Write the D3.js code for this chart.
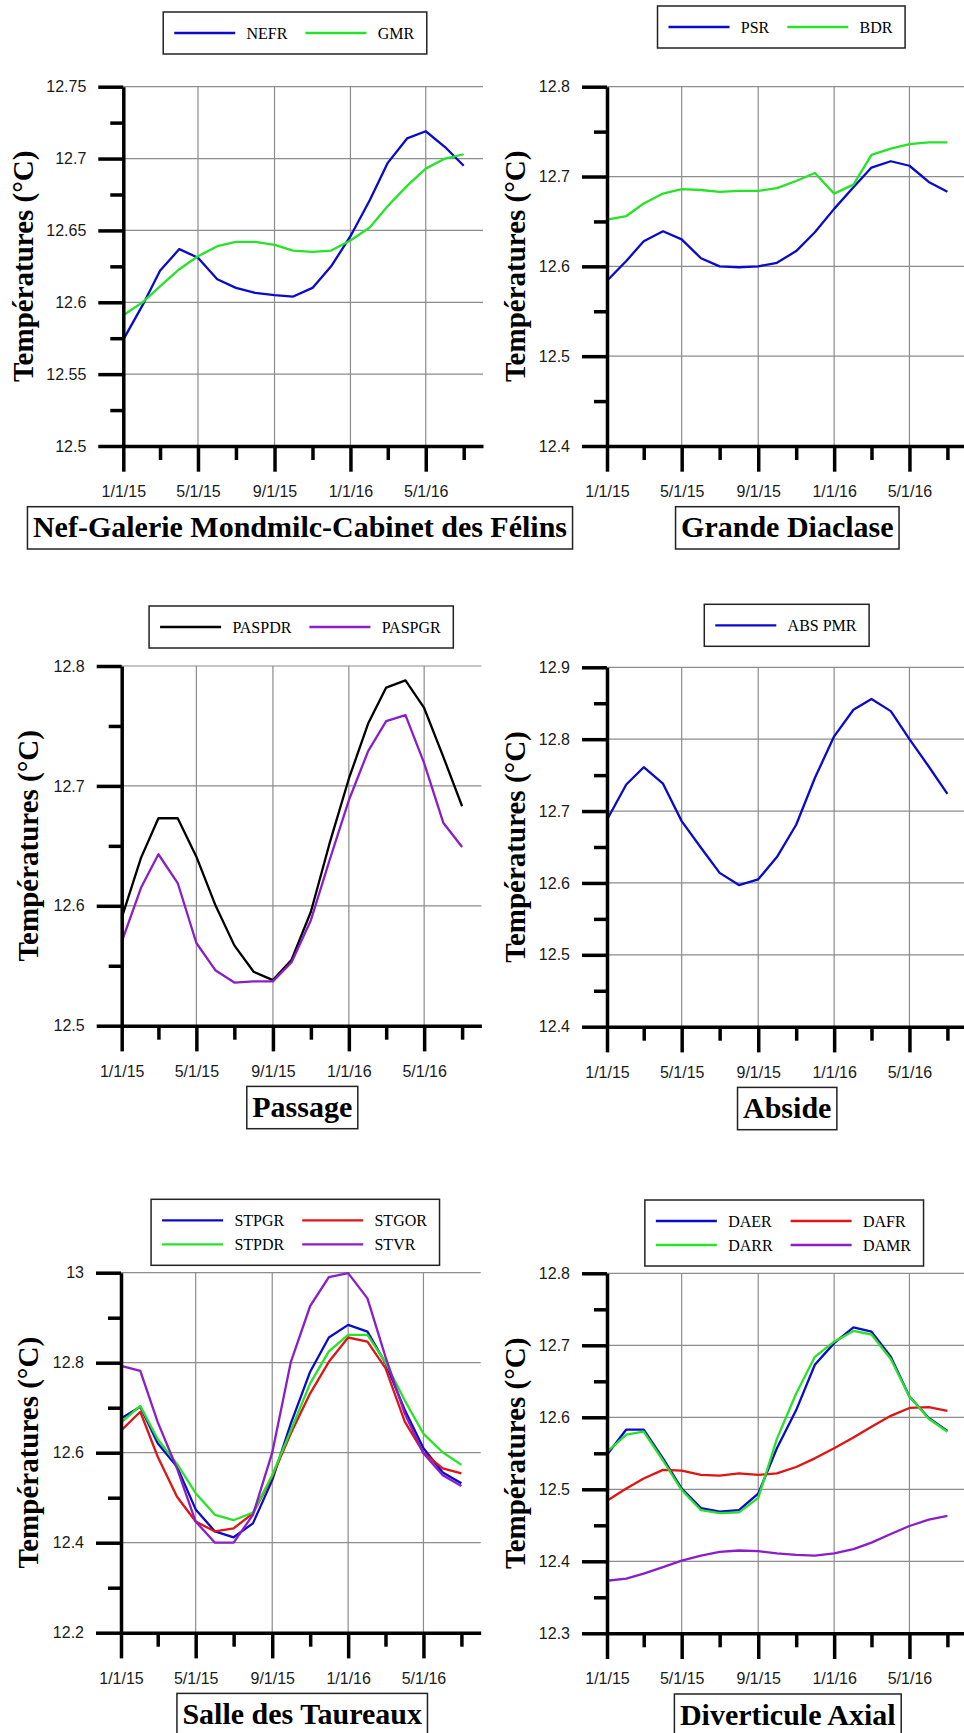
<!DOCTYPE html>
<html><head><meta charset="utf-8">
<script src="https://cdn.jsdelivr.net/npm/d3@7"></script>
<style>
body{margin:0;background:#fff;}
svg{display:block;}
</style></head><body>
<svg id="chart" width="964" height="1733"></svg>
<script>
// ---------- DATA ----------
const months = ["2015-01-01","2015-02-01","2015-03-01","2015-04-01","2015-05-01","2015-06-01","2015-07-01","2015-08-01","2015-09-01","2015-10-01","2015-11-01","2015-12-01","2016-01-01","2016-02-01","2016-03-01","2016-04-01","2016-05-01","2016-06-01","2016-07-01"];
const xDomain = ["2015-01-01","2016-08-01"];
const xTickDates = ["2015-01-01","2015-05-01","2015-09-01","2016-01-01","2016-05-01"];
const xTickLabels = ["1/1/15","5/1/15","9/1/15","1/1/16","5/1/16"];
const xMinorDates = ["2015-03-01","2015-07-01","2015-11-01","2016-03-01","2016-07-01"];

const yTitle = "Températures (°C)";
const panelTitles = ["Nef-Galerie Mondmilc-Cabinet des Félins","Grande Diaclase","Passage","Abside","Salle des Taureaux","Diverticule Axial"];

const yTicksNef = [12.5,12.55,12.6,12.65,12.7,12.75];
const yLabelsNef = ["12.5","12.55","12.6","12.65","12.7","12.75"];
const yTicksGD = [12.4,12.5,12.6,12.7,12.8];
const yLabelsGD = ["12.4","12.5","12.6","12.7","12.8"];
const yTicksPas = [12.5,12.6,12.7,12.8];
const yLabelsPas = ["12.5","12.6","12.7","12.8"];
const yTicksAbs = [12.4,12.5,12.6,12.7,12.8,12.9];
const yLabelsAbs = ["12.4","12.5","12.6","12.7","12.8","12.9"];
const yTicksST = [12.2,12.4,12.6,12.8,13];
const yLabelsST = ["12.2","12.4","12.6","12.8","13"];
const yTicksDA = [12.3,12.4,12.5,12.6,12.7,12.8];
const yLabelsDA = ["12.3","12.4","12.5","12.6","12.7","12.8"];

const NEFR = [12.574,12.598,12.622,12.637,12.631,12.616,12.610,12.6065,12.605,12.604,12.610,12.625,12.646,12.671,12.697,12.714,12.719,12.708,12.695];
const GMR  = [12.591,12.600,12.611,12.623,12.632,12.639,12.642,12.642,12.640,12.636,12.635,12.636,12.643,12.652,12.667,12.681,12.693,12.700,12.703];

const PSR = [12.584,12.606,12.628,12.639,12.630,12.609,12.600,12.599,12.600,12.604,12.617,12.638,12.664,12.688,12.710,12.717,12.712,12.694,12.683];
const BDR = [12.652,12.656,12.670,12.681,12.686,12.685,12.683,12.684,12.684,12.687,12.695,12.704,12.681,12.691,12.724,12.731,12.736,12.738,12.738];

const PASPDR = [12.590,12.640,12.673,12.673,12.641,12.600,12.567,12.545,12.538,12.555,12.595,12.652,12.706,12.752,12.782,12.788,12.765,12.724,12.683];
const PASPGR = [12.570,12.615,12.643,12.619,12.569,12.546,12.536,12.537,12.537,12.553,12.588,12.638,12.688,12.729,12.754,12.759,12.719,12.669,12.649];

const ABS_PMR = [12.688,12.737,12.761,12.738,12.686,12.649,12.614,12.597,12.605,12.636,12.681,12.746,12.804,12.841,12.856,12.839,12.800,12.762,12.724];

const STPGR = [12.676,12.702,12.621,12.569,12.474,12.425,12.412,12.443,12.539,12.665,12.780,12.856,12.884,12.869,12.799,12.695,12.610,12.556,12.532];
const STGOR = [12.649,12.691,12.591,12.502,12.447,12.425,12.432,12.465,12.547,12.643,12.732,12.802,12.856,12.847,12.788,12.669,12.600,12.565,12.554];
const STPDR = [12.667,12.704,12.630,12.575,12.510,12.462,12.450,12.467,12.550,12.650,12.754,12.825,12.862,12.862,12.801,12.716,12.642,12.601,12.573];
const STVR  = [12.793,12.782,12.668,12.565,12.447,12.400,12.400,12.462,12.600,12.802,12.926,12.990,12.999,12.943,12.813,12.687,12.599,12.550,12.526];

const DAER = [12.548,12.583,12.583,12.543,12.501,12.474,12.469,12.471,12.494,12.557,12.610,12.673,12.703,12.725,12.719,12.684,12.629,12.599,12.581];
const DAFR = [12.484,12.501,12.515,12.527,12.526,12.520,12.519,12.522,12.520,12.522,12.531,12.543,12.557,12.572,12.587,12.602,12.613,12.614,12.609];
const DARR = [12.552,12.576,12.580,12.540,12.499,12.471,12.467,12.468,12.488,12.570,12.633,12.684,12.705,12.720,12.715,12.681,12.629,12.598,12.580];
const DAMR = [12.373,12.376,12.383,12.392,12.401,12.408,12.413,12.415,12.414,12.411,12.409,12.408,12.411,12.417,12.426,12.438,12.449,12.458,12.463];

// ---------- STYLE / LAYOUT ----------
const C = {blue:"#0a0acb", green:"#27e327", red:"#e01414", purple:"#8a1ec8", black:"#000000"};
const SERIF = "'Liberation Serif','Times New Roman',serif";
const SANS = "'Liberation Sans',Arial,sans-serif";
const PLOT_W = 359.7;

const panels = [
  {title:panelTitles[0], yTicks:yTicksNef, yLabels:yLabelsNef, ax:123.3, top:86.7, bottom:446,
   legendCx:295, legendTop:12, cols:2, yTitleX:33, titleCx:300,
   series:[{name:"NEFR",v:NEFR,c:C.blue},{name:"GMR",v:GMR,c:C.green}]},
  {title:panelTitles[1], yTicks:yTicksGD, yLabels:yLabelsGD, ax:607, top:86.7, bottom:446,
   legendCx:781.3, legendTop:6, cols:2, yTitleX:525, titleCx:787.3,
   series:[{name:"PSR",v:PSR,c:C.blue},{name:"BDR",v:BDR,c:C.green}]},
  {title:panelTitles[2], yTicks:yTicksPas, yLabels:yLabelsPas, ax:121.7, top:666, bottom:1025.7,
   legendCx:301.2, legendTop:606, cols:2, yTitleX:38, titleCx:302.3,
   series:[{name:"PASPDR",v:PASPDR,c:C.black},{name:"PASPGR",v:PASPGR,c:C.purple}]},
  {title:panelTitles[3], yTicks:yTicksAbs, yLabels:yLabelsAbs, ax:607, top:667.3, bottom:1026.7,
   legendCx:786.7, legendTop:604.3, cols:1, yTitleX:525, titleCx:787.2,
   series:[{name:"ABS PMR",v:ABS_PMR,c:C.blue}]},
  {title:panelTitles[4], yTicks:yTicksST, yLabels:yLabelsST, ax:121, top:1272.7, bottom:1632.7,
   legendCx:295.3, legendTop:1199.3, cols:2, yTitleX:38, titleCx:302.2,
   series:[{name:"STPGR",v:STPGR,c:C.blue},{name:"STGOR",v:STGOR,c:C.red},{name:"STPDR",v:STPDR,c:C.green},{name:"STVR",v:STVR,c:C.purple}]},
  {title:panelTitles[5], yTicks:yTicksDA, yLabels:yLabelsDA, ax:607, top:1273.3, bottom:1633.3,
   legendCx:784.2, legendTop:1200, cols:2, yTitleX:525, titleCx:787.8,
   series:[{name:"DAER",v:DAER,c:C.blue},{name:"DAFR",v:DAFR,c:C.red},{name:"DARR",v:DARR,c:C.green},{name:"DAMR",v:DAMR,c:C.purple}]}
];

const parse = d3.timeParse("%Y-%m-%d");
const svg = d3.select("#chart");

function drawPanel(p){
  const x = d3.scaleTime().domain(xDomain.map(parse)).range([p.ax, p.ax + PLOT_W]);
  const y = d3.scaleLinear().domain([p.yTicks[0], p.yTicks[p.yTicks.length-1]]).range([p.bottom, p.top]);
  const right = x.range()[1];
  const g = svg.append("g");

  // grid
  g.selectAll("line.hg").data(p.yTicks.slice(1)).join("line").attr("class","hg")
    .attr("x1",p.ax).attr("x2",right).attr("y1",d=>y(d)).attr("y2",d=>y(d))
    .attr("stroke","#8c8c8c").attr("stroke-width",1.2);
  g.selectAll("line.vg").data(xTickDates.slice(1).map(parse)).join("line").attr("class","vg")
    .attr("x1",d=>x(d)).attr("x2",d=>x(d)).attr("y1",p.top).attr("y2",p.bottom)
    .attr("stroke","#8c8c8c").attr("stroke-width",1.2);

  // series
  const line = d3.line().x((d,i)=>x(parse(months[i]))).y(d=>y(d));
  p.series.forEach(s=>{
    g.append("path").datum(s.v).attr("d",line).attr("fill","none")
      .attr("stroke",s.c).attr("stroke-width",2.3).attr("stroke-linejoin","round");
  });

  // y axis minor
  const yMinor = d3.pairs(p.yTicks).map(([a,b])=>(a+b)/2);
  const gym = g.append("g").attr("transform",`translate(${p.ax},0)`)
    .call(d3.axisLeft(y).tickValues(yMinor).tickSize(13).tickFormat("").tickSizeOuter(0));
  gym.select(".domain").remove();
  gym.selectAll(".tick line").attr("stroke","#000").attr("stroke-width",3.5);

  // x axis minor
  const gxm = g.append("g").attr("transform",`translate(0,${p.bottom})`)
    .call(d3.axisBottom(x).tickValues(xMinorDates.map(parse)).tickSize(14).tickFormat("").tickSizeOuter(0));
  gxm.select(".domain").remove();
  gxm.selectAll(".tick line").attr("stroke","#000").attr("stroke-width",3.5);

  // y axis major
  const gy = g.append("g").attr("transform",`translate(${p.ax},0)`)
    .call(d3.axisLeft(y).tickValues(p.yTicks).tickFormat((d,i)=>p.yLabels[i]).tickSize(25).tickPadding(12).tickSizeOuter(0));
  gy.attr("font-family",SANS).attr("font-size",16);
  gy.select(".domain").attr("stroke","#000").attr("stroke-width",3.5);
  gy.selectAll(".tick line").attr("stroke","#000").attr("stroke-width",3.5);
  gy.selectAll(".tick text").attr("fill","#1a1a1a");

  // x axis major
  const gx = g.append("g").attr("transform",`translate(0,${p.bottom})`)
    .call(d3.axisBottom(x).tickValues(xTickDates.map(parse)).tickFormat((d,i)=>xTickLabels[i]).tickSize(25.7).tickPadding(14).tickSizeOuter(0));
  gx.attr("font-family",SANS).attr("font-size",16);
  gx.select(".domain").attr("stroke","#000").attr("stroke-width",3.5);
  gx.selectAll(".tick line").attr("stroke","#000").attr("stroke-width",3.5);
  gx.selectAll(".tick text").attr("fill","#1a1a1a");

  // y title
  g.append("text").attr("transform",`translate(${p.yTitleX},${(p.top+p.bottom)/2}) rotate(-90)`)
    .attr("text-anchor","middle").attr("font-family",SERIF).attr("font-weight","bold")
    .attr("font-size",29).attr("fill","#000").text(yTitle);

  // panel title in box
  const tg = g.append("g");
  const trect = tg.append("rect");
  const tt = tg.append("text").attr("x",p.titleCx).attr("y",p.bottom+91.3).attr("text-anchor","middle")
    .attr("font-family",SERIF).attr("font-weight","bold").attr("font-size",30).attr("fill","#000").text(p.title);
  const tw = tt.node().getComputedTextLength();
  trect.attr("x",p.titleCx - tw/2 - 5.5).attr("y",p.bottom+60.7)
    .attr("width",tw+11).attr("height",42.3).attr("fill","#fff").attr("stroke","#222").attr("stroke-width",1.5);

  // legend
  const lg = g.append("g");
  const lrect = lg.append("rect");
  const n = p.series.length, cols = p.cols, rows = Math.ceil(n/cols);
  const texts = p.series.map(s=>lg.append("text").attr("font-family",SERIF).attr("font-size",16).attr("fill","#000").text(s.name));
  const widths = texts.map(t=>t.node().getComputedTextLength());
  const colW = d3.range(cols).map(c=>d3.max(p.series.map((s,i)=>i%cols===c?widths[i]:0)));
  const LINE=61, GAP=11.3, COLGAP=18;
  const colX = []; let acc=0;
  for(let c=0;c<cols;c++){ colX.push(acc); acc += LINE+GAP+colW[c]+(c<cols-1?COLGAP:0); }
  const boxW = 11 + acc + 12.6;
  const boxH = 42 + (rows-1)*24;
  const bx = p.legendCx - boxW/2, by = p.legendTop;
  lrect.attr("x",bx).attr("y",by).attr("width",boxW).attr("height",boxH)
    .attr("fill","#fff").attr("stroke","#222").attr("stroke-width",1.5);
  p.series.forEach((s,i)=>{
    const c=i%cols, r=Math.floor(i/cols);
    const lx = bx+11+colX[c], ly = by+21+r*24;
    lg.append("line").attr("x1",lx).attr("x2",lx+LINE).attr("y1",ly).attr("y2",ly)
      .attr("stroke",s.c).attr("stroke-width",2.3);
    texts[i].attr("x",lx+LINE+GAP).attr("y",ly+5.5);
  });
}

panels.forEach(drawPanel);
</script>
</body></html>
